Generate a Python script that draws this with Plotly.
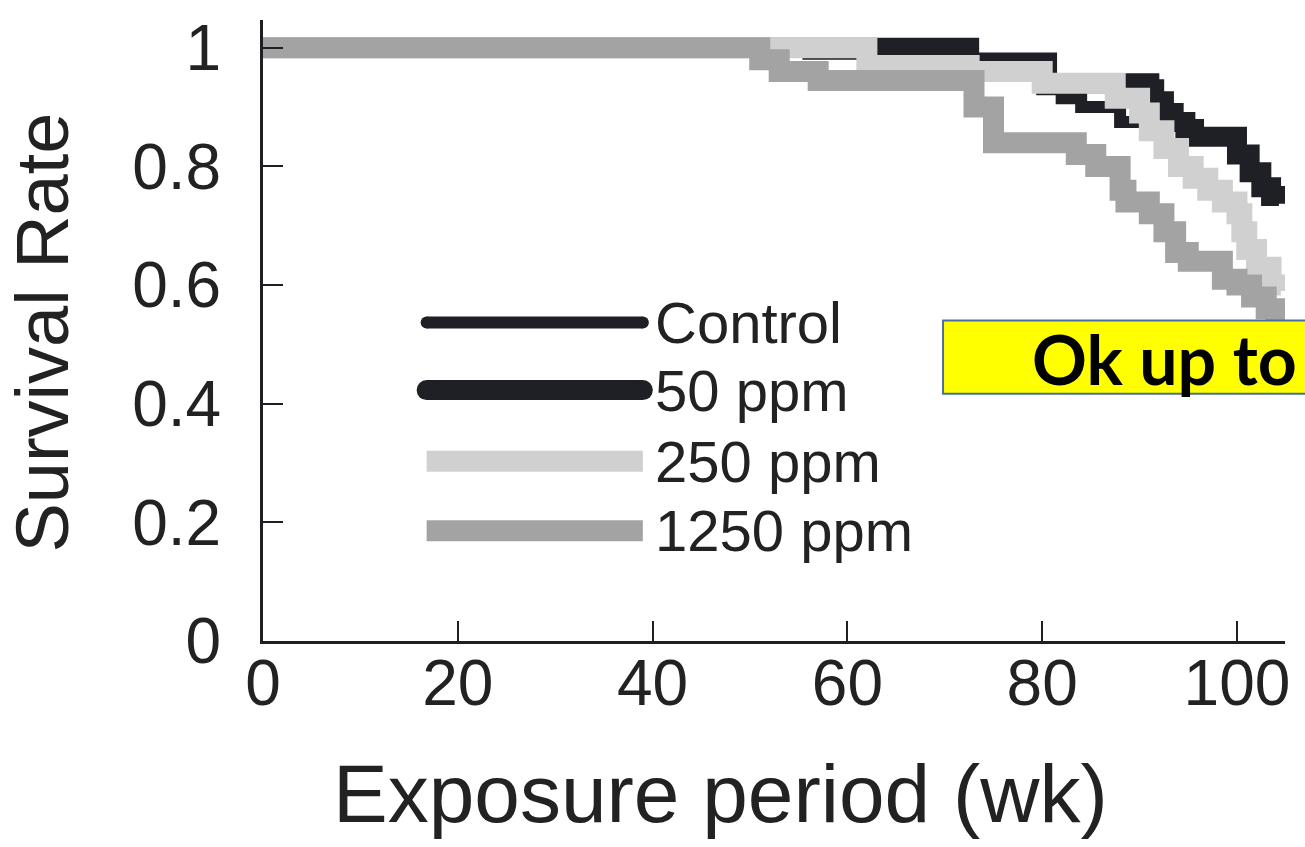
import plotly.graph_objects as go

# Kaplan-Meier survival by dose group (weeks of exposure, survival fraction at each step)
control_wk = [0, 56, 62, 70, 80, 82, 84, 88, 92, 96, 100]
control_sv = [1.0, 0.99, 0.975, 0.955, 0.93, 0.915, 0.90, 0.875, 0.87, 0.855, 0.855]

ppm50_wk = [0, 72.5, 80.5, 91, 91.5, 92.5, 93.5, 94.7, 100, 101.3, 102.5, 103.5, 104.3]
ppm50_sv = [1.0, 0.975, 0.94, 0.93, 0.91, 0.89, 0.875, 0.85, 0.82, 0.79, 0.765, 0.75, 0.737]

ppm250_wk = [0, 62, 72.5, 80, 87.5, 90, 91, 92.5, 94, 95.5, 97, 98.5, 100, 100.5, 101, 102, 103.5, 104.5]
ppm250_sv = [1.0, 0.97, 0.96, 0.94, 0.915, 0.89, 0.86, 0.83, 0.80, 0.78, 0.76, 0.74, 0.72, 0.69, 0.66, 0.63, 0.60, 0.59]

ppm1250_wk = [0, 51, 53, 57, 73, 75, 83.5, 85.5, 88, 88.6, 91, 92.5, 93.7, 95, 98.5, 100, 101.5, 103, 104, 104.5]
ppm1250_sv = [1.0, 0.98, 0.96, 0.945, 0.90, 0.84, 0.82, 0.80, 0.76, 0.74, 0.72, 0.69, 0.655, 0.64, 0.61, 0.60, 0.58, 0.56, 0.54, 0.54]

group_names = ["Control", "50 ppm", "250 ppm", "1250 ppm"]
x_ticks = [0, 20, 40, 60, 80, 100]
y_ticks = [0, 0.2, 0.4, 0.6, 0.8, 1]
y_tick_text = ["0", "0.2", "0.4", "0.6", "0.8", "1"]

INK = "#1f1f26"
LIGHT = "#d0d0d0"
MID = "#a3a3a3"
TEXT = "#222222"
FONT = "Liberation Sans, Arial, Helvetica, sans-serif"

styles = [
    dict(color=INK, width=12),
    dict(color=INK, width=20),
    dict(color=LIGHT, width=21),
    dict(color=MID, width=21),
]
series = [
    (control_wk, control_sv),
    (ppm50_wk, ppm50_sv),
    (ppm250_wk, ppm250_sv),
    (ppm1250_wk, ppm1250_sv),
]

fig = go.Figure()
for name, (wk, sv), st in zip(group_names, series, styles):
    fig.add_trace(go.Scatter(
        x=wk, y=sv, name=name, mode="lines",
        line=dict(shape="hv", color=st["color"], width=st["width"]),
        showlegend=False, hoverinfo="x+y+name",
    ))

# Hand-drawn key inside the plot area: long sample lines with labels
key_x0, key_x1 = 16.8, 39.0
key_rows_y = [0.537, 0.423, 0.303, 0.186]
key_text_x = 40.0
shapes = []
annotations = []
for name, st, ky in zip(group_names, styles, key_rows_y):
    shapes.append(dict(type="line", xref="x", yref="y", x0=key_x0, x1=key_x1, y0=ky, y1=ky,
                       line=dict(color=st["color"], width=st["width"]), layer="above"))
    if st["color"] == INK:
        r = st["width"] / 2
        for xa in (key_x0, key_x1):
            shapes.append(dict(type="circle", xref="x", yref="y", xsizemode="pixel", ysizemode="pixel",
                               xanchor=xa, yanchor=ky, x0=-r, x1=r, y0=-r, y1=r,
                               fillcolor=INK, line=dict(width=0), layer="above"))
    annotations.append(dict(x=key_text_x, y=ky, xref="x", yref="y", text=name, showarrow=False,
                            xanchor="left", yanchor="middle",
                            font=dict(family=FONT, size=58, color=TEXT)))

# Yellow call-out box running off the right edge
shapes.append(dict(type="rect", xref="paper", yref="paper", x0=0.6654, x1=1.08, y0=0.398, y1=0.516,
                   fillcolor="#ffff00", line=dict(color="#4a6fa5", width=2), layer="above"))
annotations.append(dict(x=0.7505, y=0.455, xref="paper", yref="paper", text="<b>Ok up to</b>",
                        showarrow=False, xanchor="left", yanchor="middle",
                        font=dict(family="Lato, Carlito, sans-serif", size=68, color="#000000")))

# Axis titles
annotations.append(dict(x=0.448, y=-0.246, xref="paper", yref="paper", text="Exposure period (wk)",
                        showarrow=False, xanchor="center", yanchor="middle",
                        font=dict(family=FONT, size=82, color=TEXT)))
annotations.append(dict(x=-0.216, y=0.497, xref="paper", yref="paper", text="Survival Rate",
                        showarrow=False, xanchor="center", yanchor="middle", textangle=-90,
                        font=dict(family=FONT, size=74, color=TEXT)))

fig.update_layout(
    width=1305, height=847,
    margin=dict(l=263, r=20, t=15, b=206),
    paper_bgcolor="white", plot_bgcolor="white",
    shapes=shapes, annotations=annotations,
    showlegend=False,
    xaxis=dict(range=[0, 104.93], tickvals=x_ticks, ticks="inside", ticklen=20, tickwidth=2,
               tickcolor=INK, showline=True, linecolor=INK, linewidth=3, showgrid=False,
               zeroline=False, ticklabelstandoff=-16,
               tickfont=dict(family=FONT, size=64, color=TEXT)),
    yaxis=dict(range=[0, 1.0468], tickvals=y_ticks, ticktext=y_tick_text, ticks="inside",
               ticklen=20, tickwidth=2, tickcolor=INK, showline=True, linecolor=INK, linewidth=3,
               showgrid=False, zeroline=False, ticklabelstandoff=26,
               tickfont=dict(family=FONT, size=64, color=TEXT)),
)

fig.write_html("out.html")
